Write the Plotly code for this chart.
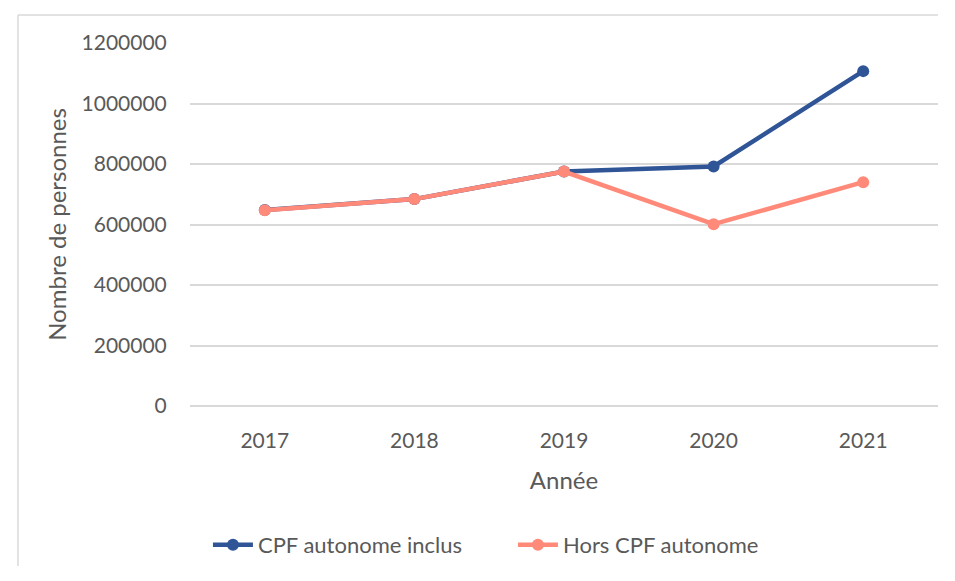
import plotly.graph_objects as go

# Data
annees = ['2017', '2018', '2019', '2020', '2021']
cpf_inclus = [648000, 684000, 775000, 792000, 1107000]
hors_cpf = [647000, 684000, 775000, 601000, 740000]

BLUE = '#2F5597'
SALMON = '#FF8A7A'
GRID = '#D9D9D9'
TEXT = '#595959'
FONT = 'Lato, "Open Sans", sans-serif'

fig = go.Figure()
fig.add_trace(go.Scatter(x=annees, y=cpf_inclus, name='CPF autonome inclus',
                         mode='lines+markers',
                         line=dict(color=BLUE, width=4.5),
                         marker=dict(color=BLUE, size=12)))
fig.add_trace(go.Scatter(x=annees, y=hors_cpf, name='Hors CPF autonome',
                         mode='lines+markers',
                         line=dict(color=SALMON, width=4.5),
                         marker=dict(color=SALMON, size=12)))

# outer chart border: only its top and left edges fall inside the picture
border = dict(color=GRID, width=1.5)
edges = [
    dict(type='line', xref='paper', yref='paper', x0=-0.23, x1=1.2, y0=1.077, y1=1.077, line=border),
    dict(type='line', xref='paper', yref='paper', x0=-0.23, x1=-0.23, y0=-0.8, y1=1.077, line=border),
]

# page body has an 8px margin, so the figure is smaller than the window
fig.update_layout(
    width=930, height=558,
    margin=dict(l=182, r=0, t=35, b=158),
    paper_bgcolor='white', plot_bgcolor='white',
    font=dict(family=FONT, size=21, color=TEXT),
    legend=dict(orientation='h', x=0.024, xanchor='left',
                y=-0.384, yanchor='middle', font=dict(size=22),
                itemwidth=40, entrywidth=250, tracegroupgap=0),
    shapes=edges,
)

fig.update_xaxes(
    type='category', range=[-0.5, 4.5],
    showgrid=False, showline=False, zeroline=False,
    ticks='outside', ticklen=16, tickcolor='rgba(0,0,0,0)',
    tickfont=dict(size=21),
    title=dict(text='Année', font=dict(size=24), standoff=20),
)
fig.update_yaxes(
    range=[0, 1200000], dtick=200000, tickformat='d',
    showgrid=True, gridcolor=GRID, gridwidth=1.5,
    zeroline=True, zerolinecolor=GRID, zerolinewidth=1.5,
    showline=False,
    ticks='outside', ticklen=18, tickcolor='rgba(0,0,0,0)',
    tickfont=dict(size=21),
    title=dict(text='Nombre de personnes', font=dict(size=24), standoff=8),
)

fig.write_html('out.html')
